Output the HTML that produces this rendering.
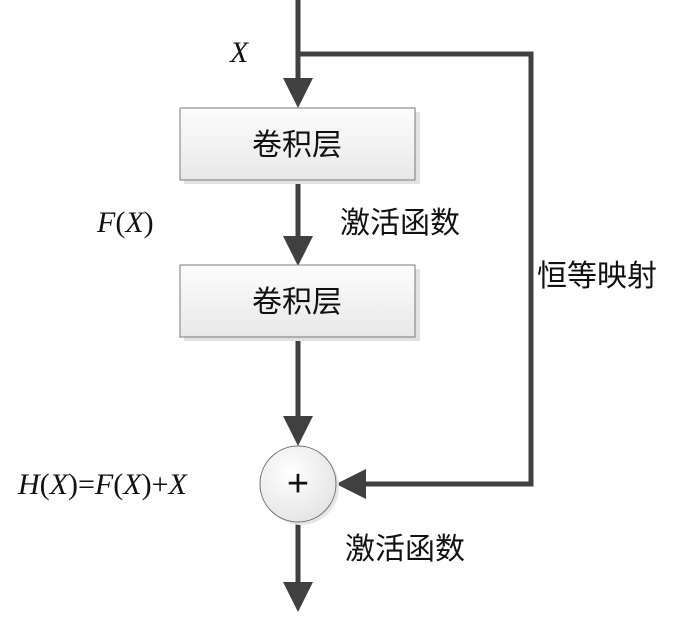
<!DOCTYPE html>
<html><head><meta charset="utf-8"><style>body{margin:0;background:#fff}</style></head><body>
<svg width="700" height="614" xmlns="http://www.w3.org/2000/svg">
<defs>
<linearGradient id="g" x1="0" y1="0" x2="0" y2="1"><stop offset="0" stop-color="#fdfdfd"/><stop offset="1" stop-color="#e8e8e8"/></linearGradient>
<radialGradient id="rg" cx="0.4" cy="0.35" r="0.7"><stop offset="0" stop-color="#ffffff"/><stop offset="1" stop-color="#e4e4e4"/></radialGradient>
</defs>
<g fill="#404040" stroke="#404040">
<line x1="298" y1="0" x2="298" y2="82" stroke-width="5"/>
<polygon points="283,78 313,78 298,108" stroke="none"/>
<polyline points="298,54 531,54 531,484 364,484" fill="none" stroke-width="5"/>
<polygon points="366,469 366,499 336,484" stroke="none"/>
<line x1="298" y1="180" x2="298" y2="240" stroke-width="5"/>
<polygon points="283,236 313,236 298,266" stroke="none"/>
<line x1="298" y1="337" x2="298" y2="420" stroke-width="5"/>
<polygon points="283,416 313,416 298,446" stroke="none"/>
<line x1="298" y1="522" x2="298" y2="586" stroke-width="5"/>
<polygon points="283,582 313,582 298,612" stroke="none"/>
</g>
<rect x="184" y="112" width="236" height="72" fill="#e2e2e2"/>
<rect x="180" y="108" width="235" height="72" fill="url(#g)" stroke="#7a7a7a" stroke-width="1"/>
<rect x="184" y="269" width="236" height="72" fill="#e2e2e2"/>
<rect x="180" y="265" width="235" height="72" fill="url(#g)" stroke="#7a7a7a" stroke-width="1"/>
<circle cx="301" cy="487" r="38" fill="#e6e6e6"/>
<circle cx="298" cy="484" r="38" fill="url(#rg)" stroke="#707070" stroke-width="1"/>
<g font-family="Liberation Sans, Noto Sans CJK SC, sans-serif" font-size="30" fill="#111">
<text x="297" y="155" text-anchor="middle">卷积层</text>
<text x="297" y="312" text-anchor="middle">卷积层</text>
<text x="340" y="233">激活函数</text>
<text x="345" y="559">激活函数</text>
<text x="537" y="286">恒等映射</text>
</g>
<g font-family="Liberation Serif, serif" font-size="30" font-style="italic" fill="#111">
<text x="230" y="62">X</text>
<text x="97" y="232">F<tspan font-style="normal">(</tspan>X<tspan font-style="normal">)</tspan></text>
<text x="18" y="494">H<tspan font-style="normal">(</tspan>X<tspan font-style="normal">)=</tspan>F<tspan font-style="normal">(</tspan>X<tspan font-style="normal">)+</tspan>X</text>
</g>
<text x="298" y="496" text-anchor="middle" font-family="Liberation Sans, sans-serif" font-size="38" fill="#111">+</text>
</svg>
</body></html>
